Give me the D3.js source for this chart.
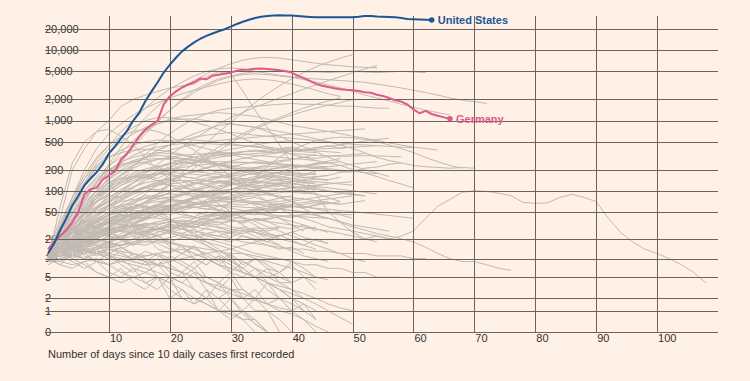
<!DOCTYPE html>
<html>
<head>
<meta charset="utf-8">
<script src="https://cdn.jsdelivr.net/npm/d3@7"></script>
<style>
  html, body { margin: 0; padding: 0; background: #fff1e5; }
  svg { display: block; }
  text { font-family: "Liberation Sans", Arial, sans-serif; }
</style>
</head>
<body>
<svg id="chart" width="750" height="381"></svg>
<script>
// ---------- DATA ----------
const xTickValues = [10, 20, 30, 40, 50, 60, 70, 80, 90, 100];
const yTickValues = [0, 1, 2, 5, 10, 20, 50, 100, 200, 500, 1000, 2000, 5000, 10000, 20000];
const xTitle = "Number of days since 10 daily cases first recorded";

const usName = "United States";
const usCases = [12,17,27,40,62,85,120,150,185,240,340,430,560,720,1000,1300,1900,2600,3500,4800,
  6200,7800,9600,11200,12900,14500,15900,17200,18500,19800,21500,23500,25300,27000,28500,29800,
  30400,30900,31250,30900,31000,30500,30000,29600,29300,29250,29250,29250,29250,29250,29250,29700,
  30400,30500,30000,29700,29500,29250,28500,27600,27400,27100,26900,26800];

const germanyName = "Germany";
const germanyCases = [14,18,22,27,35,50,90,105,110,145,165,190,280,340,450,600,750,870,1000,1700,
  2200,2600,2950,3250,3500,3950,3850,4330,4470,4620,4800,5100,5250,5300,5450,5500,5400,5300,5200,
  5000,4800,4350,4000,3650,3320,3130,3000,2880,2780,2730,2700,2630,2530,2480,2330,2230,2090,1940,
  1860,1690,1440,1270,1370,1240,1170,1110,1060];

// other countries: one value every 2 days from day 0
const otherStepDays = 2;
const otherCases = [
  [10,12,15,20,26,35,48,65,90,125,170,240,340,480,680,950,1300,1800,2400,3100,3900,4800,5800,6700,7700,8600],
  [12,40,200,400,700,1000,1600,2000,2300,2600,2900,3100,3300,4200,4900,4600,2600,1400,800,450,250,150,90,50,35,25,20,22,20,22,26,40,60,75,95,100,98,92,85,68,66,67,80,89,80,70,40,25,18,14,12,10,8,6,4],
  [12,30,70,150,280,450,700,1000,1500,2100,2800,3500,4300,5000,5400,5600,5400,5000,4700,4400,4200,4000,3900,3800,3700,3600,3500,3300,3100,2900,2700,2500,2300,2100,1950,1850,1750],
  [10,15,25,45,80,140,250,420,650,950,1400,2000,2700,3300,3900,4300,4700,4900,5000,5100,5000,4900,4900,4800,4900,5000,4900,4800,4900,5000,4900,4800],
  [10,18,35,70,130,240,420,700,1100,1600,2200,2900,3700,4600,5500,6400,7200,7700,7900,7700,7300,6900,6500,6200,6000,5800,5700,5600],
  [10,16,28,50,90,160,280,450,700,1000,1400,1900,2500,3100,3700,4200,4500,4600,4500,4300,4100,3800,3500,3200,2900,2600,2300,2100,1900,1700,1550,1400,1300,1200],
  [10,30,80,200,400,650,900,1200,1500,1800,2100,2400,2700,3000,3300,3600,3800,3900,3800,3600,3300,3000,2700,2400,2200],
  [10,14,20,30,45,65,95,130,180,240,320,420,550,700,900,1100,1300,1550,1800,2100,2400,2800,3200,3700,4200,4800,5400,6000],
  [10,15,22,35,55,90,140,220,330,480,650,850,1050,1250,1400,1500,1550,1600,1650,1700,1750,1700,1700,1650,1600,1600,1550,1500,1500],
  [10,20,40,75,130,220,350,520,700,900,1050,1150,1200,1250,1300,1250,1200,1150,1050,950,850,800,750,700,650,600,560,520,480,450,420,400,380],
  [10,25,60,120,220,350,500,650,800,900,1000,1050,1050,1000,950,900,850,800,750,700,650,600,550,500,450,400,350,300,270,250,230,220,215,210,215,210],
  [10,12,15,20,25,30,40,55,70,90,120,160,210,280,370,480,600,750,900,1050,1200,1350,1500,1650,1800,2000],
  [10,12,14,16,20,25,30,40,60,90,130,180,250,330,420,520,650,800,950,1100,1300,1500,1700,1900,2100],
  [10,25,60,130,250,400,600,800,1000,1100,1100,1050,950,850,750,650,550,480,420,370,330,300,270,250,230,200,180,160,140,125,110],
  [10,15,25,40,70,110,160,230,300,380,450,550,650,750,850,900,850,800,700,600,500,420,360,300,260,230,200,180,160],
  [10,18,30,50,80,120,170,230,300,380,450,520,580,620,650,680,650,620,600,580,560,540,520,500,480,460,450,440,430,420,410],
  [10,30,80,170,300,450,600,700,750,700,600,480,380,290,220,160,120,90,70,55,45,40,35,30,28,26,24,22,20],
  [10,60,250,500,700,750,600,450,300,200,150,120,100,95,100,105,110,100,90,80,70,55,45,40,35,30,27,24,22,20,18,15,12,10,9,9,8,7,6.5],
  [10,12,14,15,16,18,20,22,25,28,30,32,35,40,50,70,100,150,220,300,380,450,520,560,580,570,540,500,450,400,350,300,260,230,210],
  [10,20,35,60,90,130,170,210,250,280,300,320,330,340,350,340,330,320,310,300,290,280,270],
  [12,18,28,40,55,70,85,100,110,120,125,130,140,150,160,170,180,190,200,210,220,230,240,250,260],
  [10,14,20,28,38,50,60,70,80,85,90,88,85,80,78,75,72,70,68,65,60,58],
  [11,15,22,30,40,48,55,58,60,55,50,45,42,38,35,30,28,25,22,20],
  [10,13,17,22,28,34,40,45,50,52,55,57,58,60,62,60,58,57,55,54,52,50,48,47,46,45],
  [9,12,16,20,24,27,30,32,33,34,35,34,33,31,30,28,26,25,23,22],
  [10,25,50,90,140,200,260,300,330,350,340,320,300,270,240,210,190,170,150,140,130,120,110,100,95,90,85],
  [10,11,12,13,14,15,16,18,20,22,25,28,32,36,40,45,50,55,60,65,70,75,80,85,90,95],
  [12,20,30,45,60,80,100,130,160,190,220,250,280,300,320,340,360,370,380,390,400],
  [10,12,15,18,22,26,30,35,40,48,55,65,75,85,95,105,115,125,135,145,150,155,160,165],
  [8,10,11,12,13,12,11,10,9,8,7,6,5,4,3.5,3,2.5,2,1.5,1,0.8,0.5,0.2,0],
  [10,9,8,9,10,8,6,5,4,5,3,2,2,1.5,1,1,0.5,0.5,0],
  [10,14,18,22,20,18,15,12,10,8,7,6,5,4,3,2.5,2,1.8,1.5,1.2,1],
  [11,16,24,34,45,55,62,65,60,50,40,30,22,16,12,9,7,5,4,3,2,1.5,1],
  [10,15,22,30,38,45,50,52,50,45,38,30,24,18,14,10,7,5,3,2,1,0.5,0],
  [9,12,15,18,21,24,27,30,28,26,24,22,20,18,16,14,12,10,9,8,7,6,5,4.5],
  [10,18,30,50,80,110,140,160,170,175,170,160,150,140,130,125,120,115,110,105,100,95,90],
  [10,22,45,80,120,170,220,260,280,290,280,260,240,210,180,150,130,110,95,80,70,60,55,50,45,40],
  [12,16,22,30,42,56,72,90,110,125,135,140,140,138,135,130,125,120,118,115],
  [10,12,14,17,20,24,28,33,38,44,50,56,62,68,74,80,86,92,98,105,110,115,120,125,130,135],
  [10,12,13,14,15,16,16,17,18,18,17,16,15,14,13,12,12,11,10,10,9],
  [10,20,40,70,100,130,150,160,155,140,120,100,80,65,50,40,32,25,20,16,13,11,10,9],
  [11,13,16,19,23,28,34,40,47,55,62,70,78,85,90,95,98,100,100,98,95,92,90],
  [10,11,12,10,9,8,9,10,11,12,10,8,6,5,4,3,3,2,2,2,1.5,1],
  [10,14,20,26,32,36,38,40,42,40,38,36,35,34,35,36,37,38,40,42,44,45,46,48,50],
  [12,18,26,36,48,62,78,95,115,135,155,170,185,195,200,205,210,215,220,225,230],
  [10,16,25,38,55,75,95,115,130,140,145,140,130,120,105,90,75,62,50,40,32,26],
  [9,11,13,15,18,22,27,33,40,48,57,67,78,90,105,120,135,150,165,180,190,200,210,220,230,240,250,260],
  [10,12,11,10,12,14,13,12,11,12,13,14,12,10,8,7,6,5,5,4,4],
  [10,15,20,24,26,27,26,24,22,20,18,16,14,12,10,8,6,5,4,3,2.5,2,1.5,1,0.6,0.3],
  [11,14,18,23,29,35,42,48,54,58,60,60,58,55,52,50,48,46,45,44,43,42,41,40],
  [10,13,16,20,25,31,38,46,55,65,76,88,100,110,118,125,130,132,130,128,125,120,115,110,105,100,95,90],
  [10,30,60,100,150,200,240,260,250,220,180,140,110,85,65,50,40,32,25,20,18,16,14],
  [10,12,14,16,18,20,22,24,26,28,30,32,30,28,26,24,22,20,18,16],
  [10,11,13,12,14,16,18,20,22,25,28,31,34,37,40,44,48,52,56,60,64,68,72,76,80,85],
  [9,10,12,14,12,10,9,8,7,6,5,4,3,2,2,1,1,0.5,0],
  [10,18,28,40,52,62,70,75,78,78,76,72,68,64,60,56,52,48,44,40,36,32,28,25],
  [12,20,32,48,68,92,120,150,180,210,240,270,300,330,360,390,420,450,480,500,520],
  [10,13,17,21,25,28,30,31,30,28,25,22,19,16,13,11,9,7,6,5,4],
  [10,14,19,25,32,40,49,58,67,75,82,88,92,95,96,95,93,90,87,84,80,76,72,68,64],
  [10,12,10,8,6,5,4,5,6,5,4,3,2,1.5,1,0.8,0.5,0],
  [11,15,20,27,35,44,52,60,66,70,72,70,66,60,54,48,42,36,30,26,22,19,16,14,12,10,9],
  [10,20,35,55,80,110,140,170,190,200,205,200,190,180,170,160,150,140,130,120,110,100,90,80,70],
  [10,12,14,13,15,17,16,18,20,19,21,23,22,24,26,25,27,29,28,30],
  [10,16,22,28,32,34,33,30,26,22,18,15,12,10,8,7,6,5,4,3.5,3,2.5,2,1.5,1.2,1],
  [10,11,12,13,12,11,10,9,8,8,9,10,11,12,13,14,16,18,20,22,25,28,30],
  [10,14,20,28,36,44,50,55,58,60,62,65,68,70,72,70,68,66,64,62,60,58,56,54,52,50,48,46,44,42,40],
  [10,12,14,16,18,20,22,24,26,28,30,28,26,24,22,20,18,17,16,15,14,14,13,13,12,12,12,11,11,11,10,10],
  [10,15,22,32,45,60,75,90,100,105,100,95,90,85,80,75,70,65,60,56,52,48,44,40,36,32,30,28,26],
  [10,13,16,20,24,28,30,32,30,28,26,24,22,20,18,16,14,12,11,10,9,8,8,7,7,6,6,5,5,5],
  [10,18,25,40,55,70,95,110,150,170,210,260,240,300,330,310,360,380,350,400,420,380,410,440,400,420],
  [11,14,22,19,30,36,45,42,55,60,75,70,82,95,90,105,120,110,125,130,140,128,135],
  [10,16,30,45,70,90,120,140,160,150,180,200,190,210,230,220,240,260,250,270,280,300,290,310,320,330,340],
  [9,12,18,26,35,32,40,48,44,52,60,58,65,62,70,68,75,80,72,78,85],
  [10,20,35,60,100,150,200,250,300,340,380,420,460,500,520,540,560,580,600,620,640,660,680,700,720,740,760],
  [12,25,45,80,130,190,250,320,380,420,450,470,480,470,460,450,440,430,420,400,390,380,370,360,350],
  [10,14,20,30,42,60,85,110,140,170,200,230,260,280,300,320,330,340,350,360,370,380,390,400,410,420,430,440],
  [10,12,16,14,18,22,20,26,30,28,34,38,36,42,46,44,50,54,52,58,62],
  [10,15,12,18,22,25,20,28,32,30,26,24,28,22,20,18,22,19,16,14,15,12],
  [11,13,10,12,9,8,10,7,6,8,5,4,6,3,2,3,2,1,1,0.5,0],
  [10,12,15,11,9,12,8,6,9,5,4,6,3,2,4,2,1,2,1,0],
  [10,13,17,14,12,10,13,9,8,10,6,5,7,4,3,5,2,3,1.5,2,1],
  [10,18,28,36,30,25,32,22,18,24,15,12,16,10,8,11,6,5,7,4,3,2],
  [10,22,40,55,70,85,80,95,110,100,120,115,130,125,140,135,150,145,160,155,170,165,180],
  [12,20,32,45,58,70,85,100,115,130,145,160,150,170,185,175,195,210,200,215,230,220,240,250],
  [10,12,16,17,22,27,30,38,42,52,58,72,80,95,104,122,133,150,172,185,210,222,250,265,290],
  [10,25,55,100,160,230,300,370,430,480,520,540,530,510,490,470,440,420,400,380,370,360,350],
  [10,30,70,130,210,300,380,450,500,530,510,480,440,400,360,330,300,280,260,240,230,220,210,200,190,185],
  [10,14,19,26,22,30,36,34,42,48,45,52,58,54,60,65,62,68,72,70,75,78],
  [12,17,24,33,28,38,46,40,52,60,55,48,42,50,44,38,34,40,36,30,28,32,26],
  [10,11,13,16,20,18,24,28,25,32,36,33,40,44,41,48,52,49,56,60,58,64,68,65,70],
  [10,8,12,10,14,11,9,12,10,8,11,9,7,10,8,6,9,7,5,6,4,5,3],
  [10,14,18,15,20,24,21,26,30,27,32,28,24,29,25,21,26,22,18,23,19,16,20,17],
  [10,16,24,35,48,62,58,72,86,80,95,110,104,120,135,128,145,160,150,168,180,172,190],
  [11,20,38,65,100,145,190,230,260,280,290,285,275,260,245,230,215,200,185,175,165,155,148,140],
  [10,12,14,12,15,18,16,20,24,22,27,32,29,35,40,37,44,50,46,54,60,56,64,70],
  [10,15,22,20,28,35,32,42,50,46,58,66,62,74,82,78,90,98,94,105,112,108,118,125],
  [10,9,11,13,12,15,14,17,16,19,18,21,20,23,22,25,24,27,26,29],
  [10,14,20,18,24,22,19,16,20,17,14,12,15,11,9,12,8,10,7,6,8,5,4],
  [10,24,48,85,130,180,230,270,300,320,310,290,270,250,230,210,190,175,160,150,140,132,125],
  [12,18,26,38,34,46,60,54,70,84,78,92,105,98,112,125,118,132,145,138,150],
  [10,13,11,15,19,17,22,26,24,29,33,31,36,40,38,43,47,45,50,54],
  [10,20,30,26,22,28,20,16,22,14,12,16,10,8,11,6,5,7,4,3,2,1,0.5],
  [10,11,9,7,9,6,5,7,4,3,5,2,1.5,3,1,2,0.8,0.3,0],
  [10,13,16,20,24,28,26,30,34,32,36,34,30,33,29,26,30,27,24,22,25,21,19,17],
  [10,18,32,52,78,105,130,150,165,175,180,178,172,165,158,150,142,135,128,122,116,110,104,98,92,88,84],
  [11,15,21,28,36,45,55,66,78,90,102,115,128,140,152,162,170,176,180,182,180,176,170],
  [10,12,16,18,25,29,38,44,55,62,76,85,102,112,131,142,165,178,200,215,240],
  [10,35,80,150,230,300,350,380,390,380,360,330,300,270,240,220,200,185,170,160,150,140,135,130,125,120],
  [10,14,18,21,27,30,37,39,46,48,55,57,64,66,73,75,82,84,91,93,100,102,108],
  [12,16,14,19,17,22,20,25,23,28,26,31,29,34,32,37,35,40,38,43,41,46],
  [10,12,15,13,11,14,12,10,13,11,9,12,10,8,11,9,7,10,8,6,9,7,5],
  [10,20,36,58,86,118,150,180,205,225,240,250,255,258,260,258,255,250,245,240,235,230,225,220],
  [10,16,26,40,58,80,105,130,155,178,198,215,228,238,245,250,252,250,246,240,232,224,215,206,198,190,182,175],
  [10,13,18,24,31,39,48,58,69,81,94,108,123,139,156,174,193,213,234,256,279,303,328],
  [10,8,7,9,6,5,7,4,3,5,2,3,1.5,2,1,0.5,1,0.3,0],
  [10,15,13,18,16,12,15,11,9,12,8,6,9,5,4,6,3,2,4,2,1,1.5,0.5],
  [10,12,18,24,30,36,44,52,50,60,70,68,78,88,84,96,108,104,116,128,124,136,148,144,156],
  [10,16,24,30,36,40,44,46,48,50,52,50,48,46,44,42,40,38,36,34,32,30,28,26,24,22,20,18],
  [10,12,14,18,20,24,26,30,32,36,38,42,40,44,48,46,50,54,52,56,60,58,62,66,64,68,72],
  [10,18,30,48,72,100,130,160,190,220,250,280,300,320,340,350,360,370,360,350,340,330,320,315,310,312,318,315,310,305],
  [10,14,20,28,38,50,64,80,98,118,140,165,190,215,240,265,290,310,330,350,370,390,410,430,450,480,510,540,560],
  [10,12,15,16,21,23,29,32,39,43,51,55,64,69,79,85,96,102,115,122,136,144,158,166,183,190,210,218,239,250]
];

// ---------- LAYOUT ----------
const svg = d3.select("#chart");
const W = 750, H = 381;
svg.append("rect").attr("width", W).attr("height", H).attr("fill", "#fff1e5");

const x = d3.scaleLinear().domain([0, 110]).range([48, 718]);
const y = d3.scaleSymlog().constant(1).domain([0, 30500]).range([332, 16]);

const gridColor = "#6a635e";
const textColor = "#33302e";

// y labels (drawn first: lines run over them)
svg.append("g").selectAll("text").data(yTickValues).join("text")
  .attr("x", 45).attr("y", d => y(d)).attr("dy", "0.35em")
  .attr("font-size", 11).attr("fill", textColor)
  .text(d => d3.format(",")(d));

// gray lines
const otherLine = d3.line()
  .x((d, i) => x(i * otherStepDays))
  .y(d => y(d));
svg.append("g").selectAll("path").data(otherCases).join("path")
  .attr("d", otherLine)
  .attr("fill", "none")
  .attr("stroke", "#c2bab2")
  .attr("stroke-width", 1)
  .attr("stroke-linejoin", "round");

// grid
const grid = svg.append("g");
grid.selectAll("line.h").data(yTickValues).join("line")
  .attr("class", "h")
  .attr("x1", 45).attr("x2", 718)
  .attr("y1", d => Math.round(y(d)) + 0.5).attr("y2", d => Math.round(y(d)) + 0.5)
  .attr("stroke", gridColor).attr("stroke-width", 1);
grid.selectAll("line.v").data(xTickValues).join("line")
  .attr("class", "v")
  .attr("x1", d => Math.round(x(d)) + 0.5).attr("x2", d => Math.round(x(d)) + 0.5)
  .attr("y1", 16).attr("y2", 332)
  .attr("stroke", gridColor).attr("stroke-width", 1);

// x labels
svg.append("g").selectAll("text").data(xTickValues).join("text")
  .attr("x", d => x(d) + 1).attr("y", 342)
  .attr("font-size", 11).attr("fill", textColor)
  .text(d => d);

svg.append("text").attr("x", 48).attr("y", 358)
  .attr("font-size", 11).attr("fill", textColor).text(xTitle);

// highlighted series
const dayLine = d3.line().x((d, i) => x(i)).y(d => y(d));
function highlight(data, color, name) {
  svg.append("path").datum(data).attr("d", dayLine)
    .attr("fill", "none").attr("stroke", color).attr("stroke-width", 2)
    .attr("stroke-linejoin", "round");
  const li = data.length - 1;
  svg.append("circle").attr("cx", x(li)).attr("cy", y(data[li])).attr("r", 2.8).attr("fill", color);
  svg.append("text").attr("x", x(li) + 6).attr("y", y(data[li])).attr("dy", "0.35em")
    .attr("font-size", 11).attr("font-weight", "bold").attr("fill", color).text(name);
}
highlight(germanyCases, "#e0598b", germanyName);
highlight(usCases, "#1c5896", usName);
</script>
</body>
</html>
